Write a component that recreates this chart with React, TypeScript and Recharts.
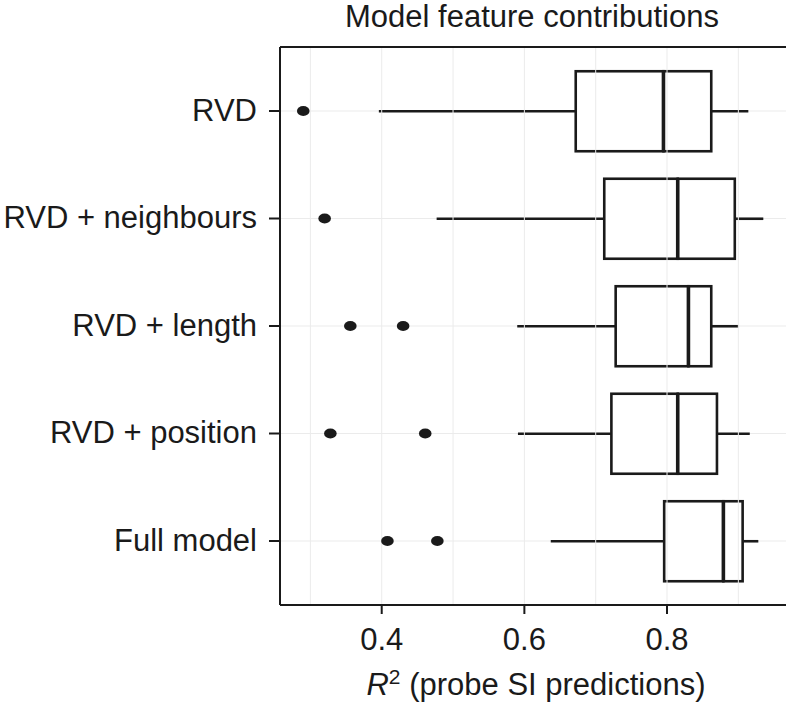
import React from "react";
import {
  ComposedChart,
  Bar,
  XAxis,
  YAxis,
  CartesianGrid,
  ReferenceLine,
  ReferenceDot,
} from "recharts";

const categories = ["RVD", "RVD + neighbours", "RVD + length", "RVD + position", "Full model"];
const whiskerLow = [0.396, 0.477, 0.59, 0.591, 0.637];
const q1 = [0.672, 0.712, 0.728, 0.722, 0.796];
const median = [0.795, 0.815, 0.83, 0.815, 0.879];
const q3 = [0.862, 0.895, 0.862, 0.87, 0.906];
const whiskerHigh = [0.914, 0.935, 0.9, 0.916, 0.928];
const outliers = [[0.29], [0.32], [0.356, 0.43], [0.328, 0.461], [0.408, 0.478]];
const xTicks = [0.4, 0.6, 0.8];
const gridValues = [0.3, 0.4, 0.5, 0.6, 0.7, 0.8, 0.9];

const INK = "#1a1a1a";
const FONT = "'Liberation Sans', Arial, Helvetica, sans-serif";

const data = categories.map((name, i) => ({
  name,
  base: whiskerLow[i],
  lowWhisker: q1[i] - whiskerLow[i],
  lowBox: median[i] - q1[i],
  highBox: q3[i] - median[i],
  highWhisker: whiskerHigh[i] - q3[i],
}));

const outlierPoints = outliers.flatMap((vals, i) => vals.map((v) => ({ name: categories[i], v })));

const WhiskerShape = (props: any) => {
  const { x, y, width, height } = props;
  const cy = y + height / 2;
  return <line x1={x} x2={x + width} y1={cy} y2={cy} stroke={INK} strokeWidth={2.6} />;
};

const LowBoxShape = (props: any) => {
  const { x, y, width, height } = props;
  return <rect x={x} y={y} width={width} height={height} fill="#ffffff" stroke={INK} strokeWidth={2.6} />;
};

const HighBoxShape = (props: any) => {
  const { x, y, width, height } = props;
  return (
    <g>
      <rect x={x} y={y} width={width} height={height} fill="#ffffff" stroke={INK} strokeWidth={2.6} />
      <line x1={x} x2={x} y1={y} y2={y + height} stroke={INK} strokeWidth={3.6} />
    </g>
  );
};

const OutlierShape = (props: any) => {
  const { cx, cy } = props;
  return <ellipse cx={cx} cy={cy} rx={6.3} ry={5} fill={INK} />;
};

const YTick = (props: any) => {
  const { x, y, payload } = props;
  return (
    <text x={x} y={y} dy={9.5} textAnchor="end" fontSize={31} fontFamily={FONT} fill={INK}>
      {payload.value}
    </text>
  );
};

const XTick = (props: any) => {
  const { x, y, payload } = props;
  return (
    <text x={x} y={y} dy="0.71em" textAnchor="middle" fontSize={31} fontFamily={FONT} fill={INK}>
      {payload.value.toFixed(1)}
    </text>
  );
};

export default function App() {
  const domain: [number, number] = [0.2574, 0.9668];
  return (
    <div style={{ position: "absolute", left: 0, top: 0, width: 788, height: 715, background: "#fff" }}>
      <ComposedChart
        width={788}
        height={715}
        data={data}
        layout="vertical"
        margin={{ top: 45, right: 2, bottom: 0, left: 0 }}
        barSize={80}
      >
        <CartesianGrid horizontal={true} vertical={false} stroke="#ebebeb" strokeWidth={1} />
        {gridValues.map((g) => (
          <ReferenceLine key={g} x={g} stroke="#ebebeb" strokeWidth={1} />
        ))}
        <XAxis
          type="number"
          domain={domain}
          allowDataOverflow
          ticks={xTicks}
          height={110}
          tickSize={9}
          tickMargin={14}
          tick={<XTick />}
          axisLine={{ stroke: INK, strokeWidth: 2 }}
          tickLine={{ stroke: INK, strokeWidth: 2 }}
        />
        <XAxis
          xAxisId="top"
          orientation="top"
          type="number"
          domain={domain}
          allowDataOverflow
          height={2}
          ticks={xTicks}
          tick={false}
          tickLine={false}
          axisLine={{ stroke: INK, strokeWidth: 2 }}
        />
        <YAxis
          type="category"
          dataKey="name"
          width={280}
          padding={{ top: 10.25, bottom: 10.25 }}
          tickSize={11}
          tickMargin={12}
          tick={<YTick />}
          axisLine={{ stroke: INK, strokeWidth: 2 }}
          tickLine={{ stroke: INK, strokeWidth: 2 }}
        />
        <YAxis
          yAxisId="right"
          orientation="right"
          type="category"
          dataKey="name"
          width={0}
          padding={{ top: 10.25, bottom: 10.25 }}
          tick={false}
          tickLine={false}
          axisLine={{ stroke: INK, strokeWidth: 2 }}
        />
        <Bar dataKey="base" stackId="box" fill="transparent" isAnimationActive={false} />
        <Bar dataKey="lowWhisker" stackId="box" shape={WhiskerShape} isAnimationActive={false} />
        <Bar dataKey="lowBox" stackId="box" shape={LowBoxShape} isAnimationActive={false} />
        <Bar dataKey="highBox" stackId="box" shape={HighBoxShape} isAnimationActive={false} />
        <Bar dataKey="highWhisker" stackId="box" shape={WhiskerShape} isAnimationActive={false} />
        {outlierPoints.map((p, i) => (
          <ReferenceDot key={i} x={p.v} y={p.name} r={6} shape={OutlierShape} />
        ))}
      </ComposedChart>
      <svg
        width={788}
        height={715}
        style={{ position: "absolute", left: 0, top: 0, pointerEvents: "none" }}
      >
        <text x={532} y={27} textAnchor="middle" fontSize={31} fontFamily={FONT} fill={INK}>
          Model feature contributions
        </text>
        <text x={536} y={695} textAnchor="middle" fontSize={31} fontFamily={FONT} fill={INK}>
          <tspan fontStyle="italic">R</tspan>
          <tspan fontSize={21} dy={-11}>2</tspan>
          <tspan dy={11}> (probe SI predictions)</tspan>
        </text>
      </svg>
    </div>
  );
}
